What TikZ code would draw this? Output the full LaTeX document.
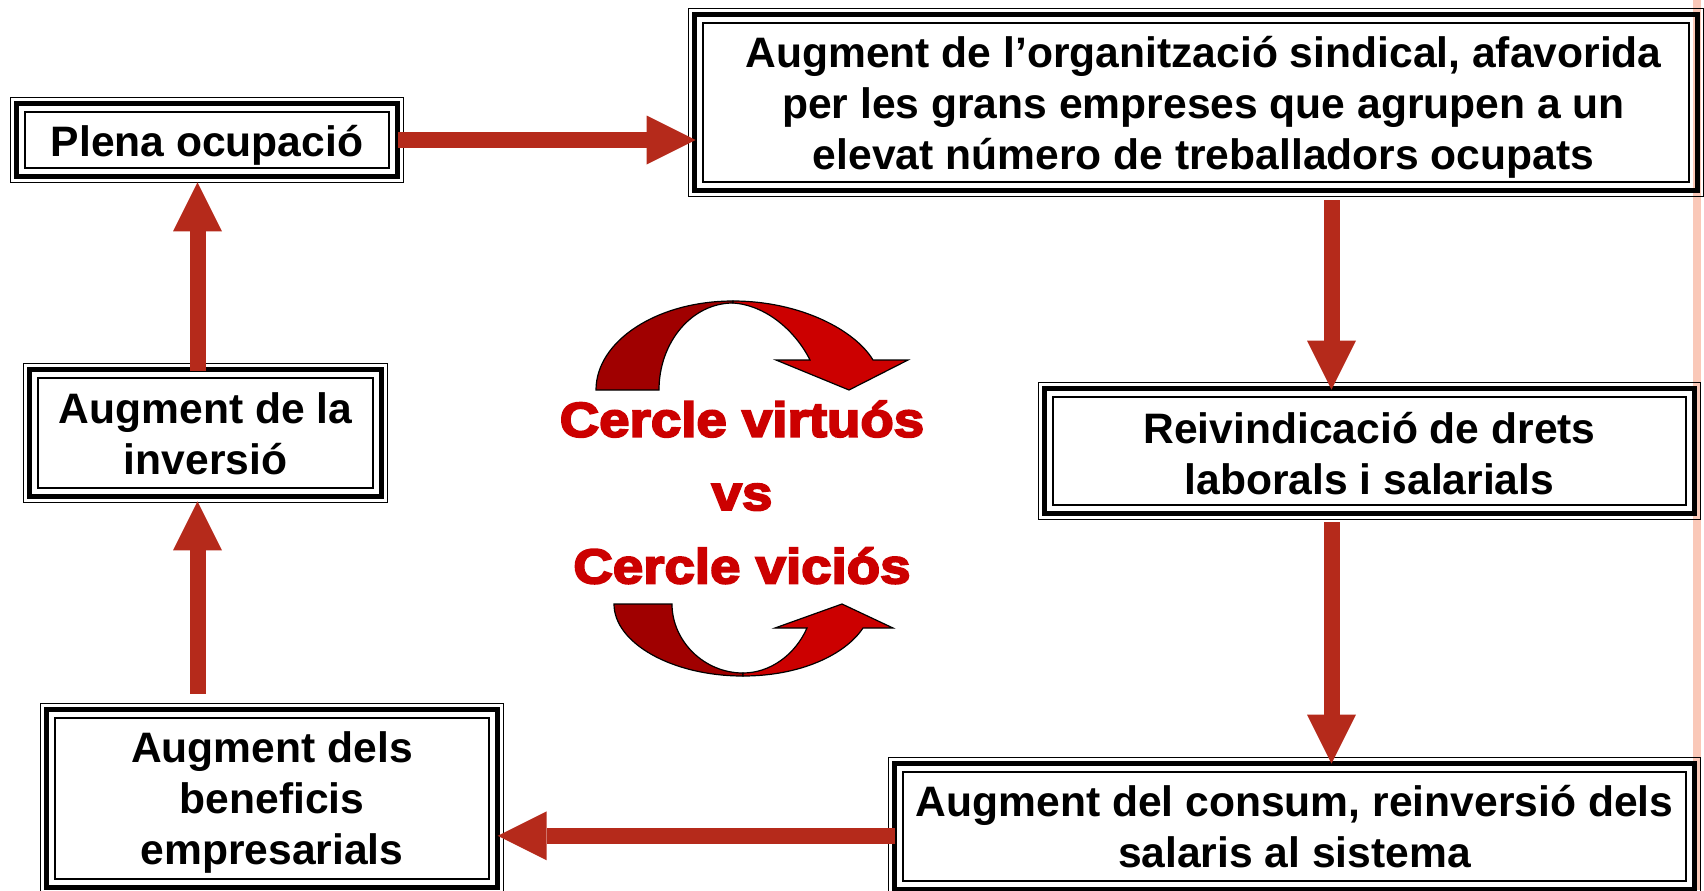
\documentclass[tikz,border=0pt]{standalone}
\usepackage{fontspec}
\setmainfont{Liberation Sans}
\newfontfamily\heavyfont{Liberation Sans}[BoldFeatures={FakeBold=4,FakeStretch=1.12}]
\usetikzlibrary{arrows.meta}

\newcommand{\tribox}[1]{%
 \draw[line width=.75pt] (#1.south west) rectangle (#1.north east);
 \draw[line width=2.75pt] ([shift={(3pt,3pt)}]#1.south west) rectangle ([shift={(-3pt,-3pt)}]#1.north east);
 \draw[line width=1pt] ([shift={(7pt,7pt)}]#1.south west) rectangle ([shift={(-7pt,-7pt)}]#1.north east);
}

\begin{document}
\begin{tikzpicture}[x=.5pt, y=-.5pt,
  frame/.style={inner sep=0pt},
  boxtext/.style={inner sep=0pt, align=center, font=\bfseries\fontsize{21.3}{25.5}\selectfont},
  redarrow/.style={draw=arrowLAT, line width=8pt, -{Triangle[length=24.5pt,width=24.5pt,line width=0pt]}},
  circletext/.style={anchor=base, text=textLAT, font=\heavyfont\bfseries\fontsize{24.4}{28}\selectfont}]

\definecolor{arrowLAT}{HTML}{B52A1B}
\definecolor{darkLAT}{HTML}{A00000}
\definecolor{brightLAT}{HTML}{CC0000}
\definecolor{textLAT}{HTML}{CC0000}
\definecolor{stripeLAT}{HTML}{FAC8B8}

\useasboundingbox (0,0) rectangle (1704,890);
\fill[stripeLAT] (1693,0) rectangle (1701,890);

\node[frame, minimum width=196pt, minimum height=42pt,
  label={[boxtext, yshift=-2.7pt]center:{Plena ocupació}}] (plena) at (207,140) {};
\node[frame, minimum width=507pt, minimum height=93.5pt,
  label={[boxtext, xshift=3.8pt, yshift=-2.5pt]center:{Augment de l’organització sindical, afavorida\\per les grans empreses que agrupen a un\\elevat número de treballadors ocupats}}] (sindical) at (1196,102.5) {};
\node[frame, minimum width=330.5pt, minimum height=68pt,
  label={[boxtext, yshift=-1.1pt]center:{Reivindicació de drets\\laborals i salarials}}] (reiv) at (1369.5,451) {};
\node[frame, minimum width=405.5pt, minimum height=68.5pt,
  label={[boxtext]center:{Augment del consum, reinversió dels\\salaris al sistema}}] (consum) at (1294.5,826.5) {};
\node[frame, minimum width=231pt, minimum height=94.5pt,
  label={[boxtext, yshift=-2.2pt]center:{Augment dels\\beneficis\\empresarials}}] (beneficis) at (272,798.5) {};
\node[frame, minimum width=181.5pt, minimum height=69pt,
  label={[boxtext, yshift=-.5pt]center:{Augment de la\\inversió}}] (inversio) at (205.5,433) {};

\tribox{plena}
\tribox{sindical}
\tribox{reiv}
\tribox{consum}
\tribox{beneficis}
\tribox{inversio}

\coordinate (s1) at ([xshift=67.75pt]sindical.south);
\coordinate (r1) at (s1 |- reiv.south);
\coordinate (c1) at ([yshift=-4.65pt]consum.west);
\coordinate (b1) at ([xshift=-4pt]inversio.south);
\coordinate (i1) at ([xshift=-4pt]inversio.north);

\draw[redarrow, shorten <=-2.5pt, shorten >=-3.5pt] (plena.east) -- (plena.east -| sindical.west);
\draw[redarrow, shorten <=2pt, shorten >=-3.5pt] (s1) -- (s1 |- reiv.north);
\draw[redarrow, shorten <=1.5pt, shorten >=-3pt] (r1) -- (r1 |- consum.north);
\draw[redarrow, shorten <=-3.35pt, shorten >=-2.85pt] (c1) -- (c1 -| beneficis.east);
\draw[redarrow, shorten <=5pt, shorten >=-.5pt] (b1 |- beneficis.north) -- (b1);
\draw[redarrow, shorten <=-3.6pt] (i1) -- (i1 |- plena.south);

% curved arrows
\draw[fill=darkLAT, line width=.6pt] (596,390) .. controls (596,341) and (657,301) .. (733,301)
  -- (733,303) .. controls (692,303) and (659,342) .. (659,390) -- cycle;
\draw[fill=brightLAT, line width=.6pt] (733,301) .. controls (800,301) and (855,330) .. (873,360)
  -- (908,360) -- (849,390) -- (776,360) -- (810,360) .. controls (795,330) and (765,305) .. (733,303) -- cycle;

\draw[fill=darkLAT, line width=.6pt] (614,604) .. controls (614,643) and (672,676) .. (743,676)
  -- (743,673) .. controls (704,673) and (672,641) .. (672,604) -- cycle;
\draw[fill=brightLAT, line width=.6pt] (743,676) .. controls (800,676) and (845,655) .. (863,628)
  -- (893,628) -- (842,604) -- (775,628) -- (807,628) .. controls (795,655) and (770,673) .. (743,673) -- cycle;

\node[circletext] (virtuos) at (742,436.7) {Cercle virtuós};
\node[circletext] (vs) at (742,510) {vs};
\node[circletext] (vicios) at (742,583.3) {Cercle viciós};

\end{tikzpicture}
\end{document}
